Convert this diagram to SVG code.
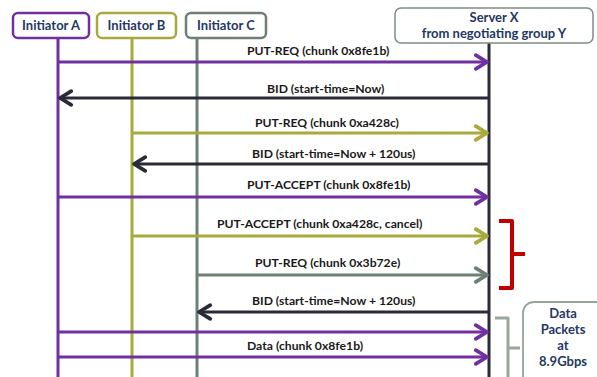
<svg xmlns="http://www.w3.org/2000/svg" width="597" height="377" viewBox="0 0 597 377">
<style>
.box{fill:#fff;stroke-width:2.5}
.lbl{font-family:Lato,"Open Sans",sans-serif;font-weight:bold;font-size:13px;fill:#1f3864;text-anchor:middle}
.msg{font-family:Lato,"Open Sans",sans-serif;font-weight:bold;font-size:12.2px;fill:#1a1a1a}
.life{stroke-width:3;fill:none}
.ar{stroke-width:3;fill:none}
.p{stroke:#7030a0}
.o{stroke:#aaaa3c}
.g{stroke:#6e8074}
.k{stroke:#2b2b38}
</style>
<defs>
<marker id="mp" markerUnits="userSpaceOnUse" markerWidth="20" markerHeight="20" viewBox="-12 -8 14 16" refX="0" refY="0" orient="auto"><path d="M-9,-5.5 L0,0 L-9,5.5" fill="none" stroke="#7030a0" stroke-width="3" stroke-linecap="round" stroke-linejoin="round"/></marker>
<marker id="mo" markerUnits="userSpaceOnUse" markerWidth="20" markerHeight="20" viewBox="-12 -8 14 16" refX="0" refY="0" orient="auto"><path d="M-9,-5.5 L0,0 L-9,5.5" fill="none" stroke="#aaaa3c" stroke-width="3" stroke-linecap="round" stroke-linejoin="round"/></marker>
<marker id="mg" markerUnits="userSpaceOnUse" markerWidth="20" markerHeight="20" viewBox="-12 -8 14 16" refX="0" refY="0" orient="auto"><path d="M-9,-5.5 L0,0 L-9,5.5" fill="none" stroke="#6e8074" stroke-width="3" stroke-linecap="round" stroke-linejoin="round"/></marker>
<marker id="mk" markerUnits="userSpaceOnUse" markerWidth="20" markerHeight="20" viewBox="-12 -8 14 16" refX="0" refY="0" orient="auto"><path d="M-9,-5.5 L0,0 L-9,5.5" fill="none" stroke="#2b2b38" stroke-width="3" stroke-linecap="round" stroke-linejoin="round"/></marker>
</defs>
<rect width="597" height="377" fill="#fff"/>

<g id="lifelines">
<line class="life p" x1="58" y1="38" x2="58" y2="377"/>
<line class="life o" x1="132" y1="38" x2="132" y2="377"/>
<line class="life g" x1="197" y1="38" x2="197" y2="377"/>
<line class="life k" x1="489" y1="43" x2="489" y2="377"/>
</g>

<g id="initiator-a">
<rect class="box" x="13" y="13" width="76" height="25" rx="5" stroke="#7030a0"/>
<text class="lbl" x="51" y="30">Initiator A</text>
</g>
<g id="initiator-b">
<rect class="box" x="97" y="13" width="79" height="25" rx="5" stroke="#aaaa3c"/>
<text class="lbl" x="136.5" y="30">Initiator B</text>
</g>
<g id="initiator-c">
<rect class="box" x="186" y="13" width="80" height="25" rx="5" stroke="#6e8074"/>
<text class="lbl" x="226" y="30">Initiator C</text>
</g>
<g id="server-x">
<rect x="395" y="8" width="198" height="35" rx="6" fill="#fff" stroke="#7d8d83" stroke-width="1.5"/>
<text class="lbl" x="494" y="22" font-size="12.5">Server X</text>
<text class="lbl" x="494" y="38" font-size="12.5">from negotiating group Y</text>
</g>

<g id="connectors">
<line class="ar p" x1="58" y1="62" x2="487" y2="62" marker-end="url(#mp)"/>
<line class="ar k" x1="489" y1="98" x2="60" y2="98" marker-end="url(#mk)"/>
<line class="ar o" x1="132" y1="133" x2="487" y2="133" marker-end="url(#mo)"/>
<line class="ar k" x1="489" y1="164" x2="134" y2="164" marker-end="url(#mk)"/>
<line class="ar p" x1="58" y1="197" x2="487" y2="197" marker-end="url(#mp)"/>
<line class="ar o" x1="132" y1="236" x2="487" y2="236" marker-end="url(#mo)"/>
<line class="ar g" x1="197" y1="275" x2="487" y2="275" marker-end="url(#mg)"/>
<line class="ar k" x1="489" y1="312" x2="199" y2="312" marker-end="url(#mk)"/>
<line class="ar p" x1="58" y1="332" x2="487" y2="332" marker-end="url(#mp)"/>
<line class="ar p" x1="58" y1="357" x2="487" y2="357" marker-end="url(#mp)"/>
</g>

<g id="labels">
<text class="msg" x="247" y="55">PUT-REQ (chunk 0x8fe1b)</text>
<text class="msg" x="267" y="93">BID (start-time=Now)</text>
<text class="msg" x="255" y="127">PUT-REQ (chunk 0xa428c)</text>
<text class="msg" x="252" y="158">BID (start-time=Now + 120us)</text>
<text class="msg" x="247" y="189">PUT-ACCEPT (chunk 0x8fe1b)</text>
<text class="msg" x="217" y="228">PUT-ACCEPT (chunk 0xa428c, cancel)</text>
<text class="msg" x="255" y="267">PUT-REQ (chunk 0x3b72e)</text>
<text class="msg" x="252" y="305">BID (start-time=Now + 120us)</text>
<text class="msg" x="247" y="350">Data (chunk 0x8fe1b)</text>
</g>

<g id="red-bracket">
<path d="M499,221 L512,221 L512,288 L499,288 M512,254 L525,254" fill="none" stroke="#c00000" stroke-width="4" stroke-linejoin="round"/>
</g>
<g id="gray-bracket">
<path d="M495,318 L508,318 L508,380 M508,348 L520,348" fill="none" stroke="#9aa79c" stroke-width="3" stroke-linejoin="round"/>
</g>
<g id="data-packets">
<rect x="523" y="302" width="90" height="90" rx="11" fill="#fff" stroke="#95a598" stroke-width="1.8"/>
<text class="lbl" x="563" y="318" font-size="12.5">Data</text>
<text class="lbl" x="563" y="334" font-size="12.5">Packets</text>
<text class="lbl" x="563" y="350" font-size="12.5">at</text>
<text class="lbl" x="563" y="366" font-size="12.5">8.9Gbps</text>
</g>
</svg>
